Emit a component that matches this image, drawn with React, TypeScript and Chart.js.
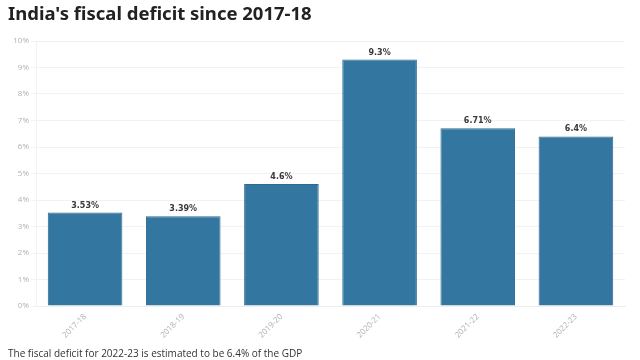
import React, { useEffect, useRef } from "react";
import { Chart, registerables } from "chart.js";

Chart.register(...registerables);

const categories = ["2017-18", "2018-19", "2019-20", "2020-21", "2021-22", "2022-23"];
const deficitValues = [3.53, 3.39, 4.6, 9.3, 6.71, 6.4];
const valueLabels = ["3.53%", "3.39%", "4.6%", "9.3%", "6.71%", "6.4%"];
const yTicks = [0, 1, 2, 3, 4, 5, 6, 7, 8, 9, 10];

const barLabelPlugin = {
  id: "barLabels",
  afterDatasetsDraw(chart: any) {
    const ctx = chart.ctx;
    const meta = chart.getDatasetMeta(0);
    ctx.save();
    ctx.font = "bold 8px 'DejaVu Sans', sans-serif";
    ctx.fillStyle = "#3a3a3a";
    ctx.textAlign = "center";
    ctx.textBaseline = "bottom";
    meta.data.forEach((bar: any, i: number) => {
      ctx.fillText(valueLabels[i], bar.x, bar.y - 3);
    });
    ctx.restore();
  },
};

export default function App() {
  const ref = useRef<HTMLCanvasElement>(null);
  useEffect(() => {
    if (!ref.current) return;
    const chart = new Chart(ref.current, {
      type: "bar",
      data: {
        labels: categories,
        datasets: [
          {
            data: deficitValues,
            backgroundColor: "#33769f",
            borderColor: "#2c6a92",
            borderWidth: 1,
            barPercentage: 0.76,
            categoryPercentage: 1,
          },
        ],
      },
      options: {
        animation: false,
        responsive: false,
        maintainAspectRatio: false,
        layout: { padding: { top: 41, right: 15, left: 0, bottom: 14 } },
        plugins: { legend: { display: false }, tooltip: { enabled: false }, title: { display: false } },
        scales: {
          x: {
            grid: { display: false },
            border: { display: true, color: "#eeeeee" },
            ticks: {
              color: "#b0b0b0",
              font: { size: 8, family: "'Open Sans', sans-serif" },
              maxRotation: 45,
              minRotation: 45,
              padding: -2,
            },
            afterFit(scale: any) {
              scale.height = 40;
            },
          },
          y: {
            min: 0,
            max: 10,
            afterBuildTicks(scale: any) {
              scale.ticks = yTicks.map((v) => ({ value: v }));
            },
            grid: { color: "#f2f2f2", drawTicks: true, tickLength: 5 },
            border: { display: true, color: "#f2f2f2" },
            ticks: {
              color: "#b0b0b0",
              font: { size: 8, family: "'Open Sans', sans-serif" },
              padding: 2,
              callback: (v: any) => v + "%",
            },
            afterFit(scale: any) {
              scale.width = 36;
            },
          },
        },
      },
      plugins: [barLabelPlugin],
    });
    return () => chart.destroy();
  }, []);

  return (
    <div style={{ position: "fixed", left: 0, top: 0, width: 640, height: 360, background: "#fff", overflow: "hidden" }}>
      <canvas ref={ref} width={640} height={360} style={{ position: "absolute", left: 0, top: 0, width: 640, height: 360 }} />
      <div
        style={{
          position: "absolute",
          left: 8,
          top: 2,
          fontFamily: "'Noto Sans', sans-serif",
          fontWeight: 700,
          fontSize: 18.5,
          color: "#222",
          whiteSpace: "nowrap",
          lineHeight: "22px",
        }}
      >
        India's fiscal deficit since 2017-18
      </div>
      <div
        style={{
          position: "absolute",
          left: 8,
          top: 346,
          fontFamily: "'Open Sans', sans-serif",
          fontSize: 10,
          color: "#333",
          whiteSpace: "nowrap",
          lineHeight: "14px",
        }}
      >
        The fiscal deficit for 2022-23 is estimated to be 6.4% of the GDP
      </div>
    </div>
  );
}
